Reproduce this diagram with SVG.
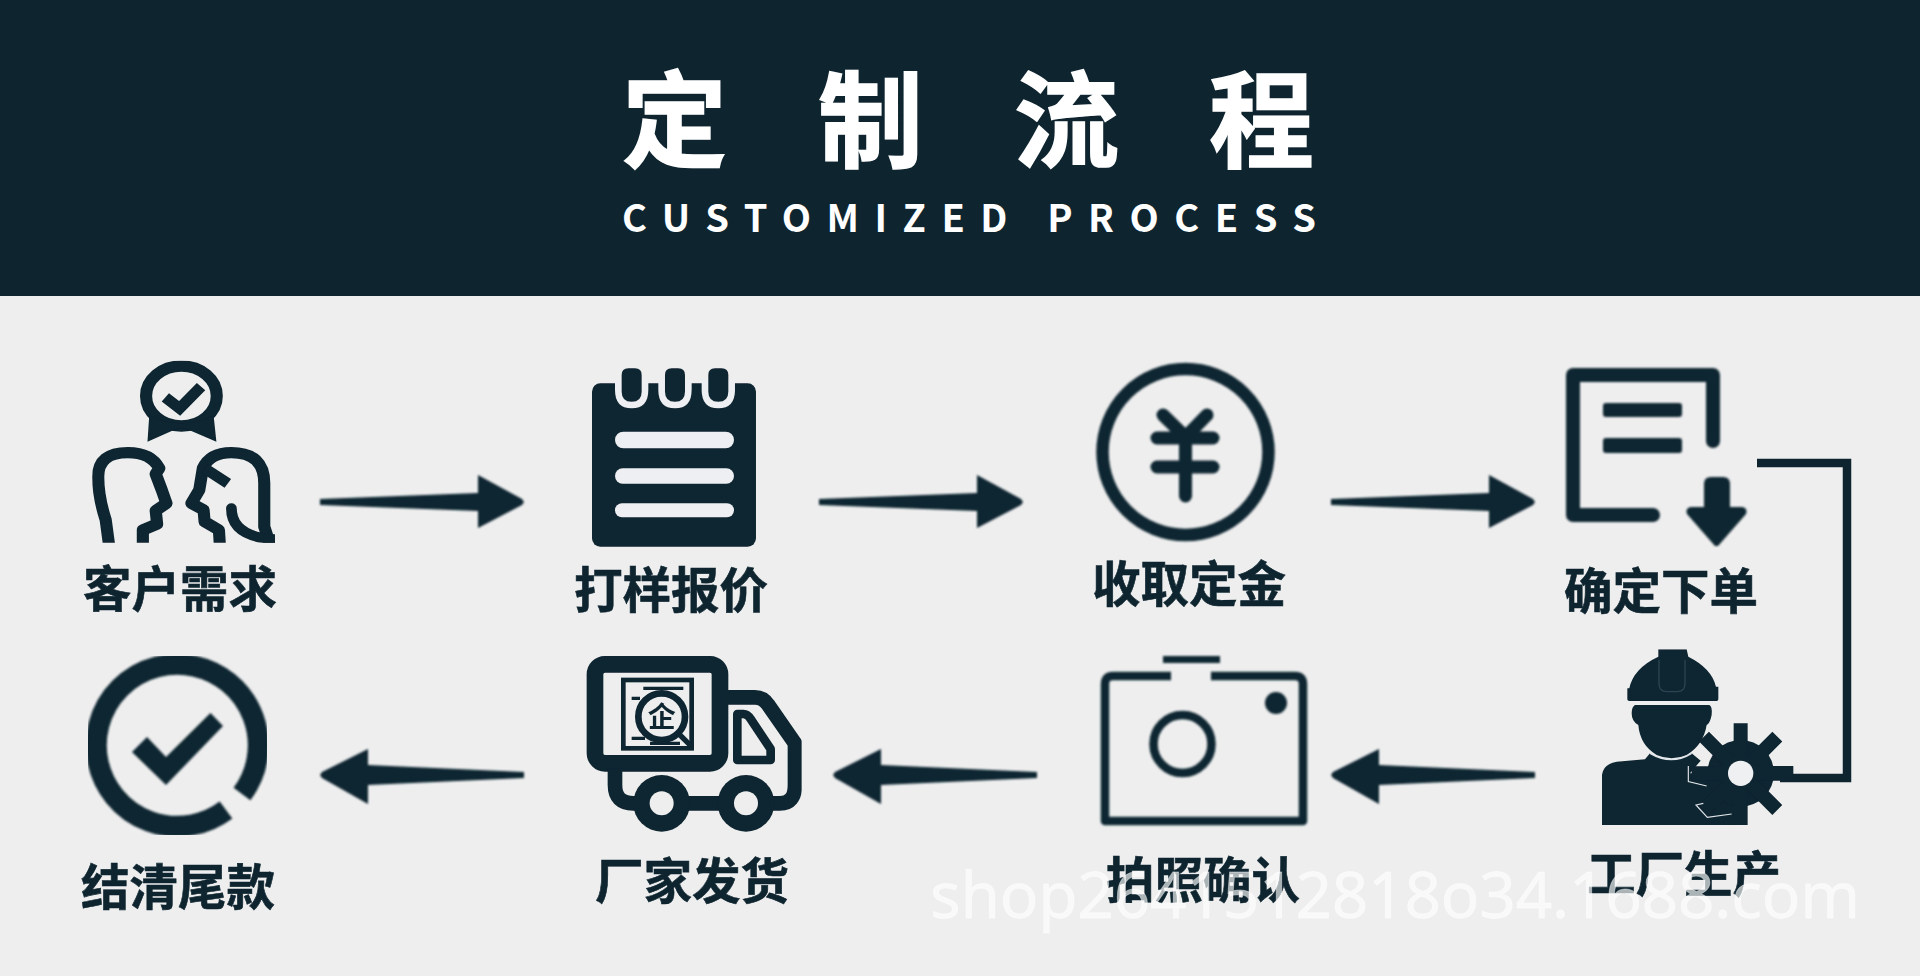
<svg xmlns="http://www.w3.org/2000/svg" width="1920" height="976" viewBox="0 0 1920 976">
<style>
.cjk{font-family:"Noto Sans CJK SC","Noto Sans",sans-serif;font-weight:700}
.lab{font-size:48.500px;fill:#0e2530;stroke:#0e2530;stroke-width:.6px}
.d{fill:#0e2530}
.s{fill:none;stroke:#0e2530}
.g{filter:url(#soft)}
</style>
<defs>
<filter id="soft" x="-5%" y="-5%" width="110%" height="110%"><feGaussianBlur stdDeviation="0.9"/></filter>
<polygon id="ar" points="320,499 478,493 478,475 522,499 524,502 522,505 478,528 478,511 320,505"/>
<polygon id="al" points="524,772 368,765 368,749 322,772 320,775 322,778 368,804 368,785 524,778"/>
<clipPath id="c1b"><rect x="90" y="62" width="512" height="546"/></clipPath>
<clipPath id="c5"><rect x="0" y="33" width="665" height="529"/></clipPath>
<clipPath id="c6"><rect x="0" y="28" width="800" height="527"/></clipPath>
</defs>
<rect width="1920" height="976" fill="#eeeeee"/>
<g id="header">
<rect width="1920" height="296" fill="#0e2530"/>
<text class="cjk" font-size="105" fill="#fff" stroke="#fff" stroke-width="1.500" x="622 818 1014 1209" y="159">定制流程</text>
<text class="cjk" font-size="38" fill="#fff" x="622" y="232" textLength="694">CUSTOMIZED PROCESS</text>
</g>
<g id="connectors">
<g class="d g">
<use href="#ar"/><use href="#ar" x="499"/><use href="#ar" x="1011"/>
<use href="#al"/><use href="#al" x="513"/><use href="#al" x="1011"/>
</g>
<path class="s" stroke-width="8.500" d="M1757 463H1847V778H1780"/>
</g>
<g id="n1">
<g class="g" transform="translate(60 340) scale(.3571 .3333)">
<g clip-path="url(#c1b)">
<ellipse class="s" cx="340" cy="168" rx="99" ry="90" stroke-width="34"/>
<path class="d" d="M250 225Q290 250 340 250Q390 250 430 225L438 305L350 265Q340 262 330 265L245 305Z"/>
<path class="s" stroke-width="32" d="M295 172L335 205L395 140"/>
<path class="s" stroke-width="34" stroke-linejoin="round" d="M138 620L128 540Q107 470 107 410Q107 338 190 338Q255 338 278 385L268 402L285 450L298 490L268 512L272 552L232 570V620"/>
<path class="s" stroke-width="34" stroke-linejoin="round" d="M448 620L445 570L405 545L402 510L368 490L390 450L400 385Q420 338 480 338Q572 338 572 430V560L590 620"/>
<path class="s" stroke-width="32" d="M405 385L470 430"/>
<path class="s" stroke-width="30" stroke-linecap="round" d="M480 505Q480 590 600 598"/>
</g>
</g>
<text class="cjk lab" x="83" y="607">客户需求</text>
</g>
<g id="n2">
<g class="g" transform="translate(570 350) scale(.3333)">
<rect class="d" x="66" y="100" width="492" height="490" rx="25"/>
<g fill="#eeeff2">
<path d="M135 90V120Q135 175 185 175Q235 175 235 120V90Z"/>
<path d="M265 90V120Q265 175 315 175Q365 175 365 120V90Z"/>
<path d="M395 90V120Q395 175 445 175Q495 175 495 120V90Z"/>
<rect x="135" y="245" width="357" height="50" rx="25"/>
<rect x="135" y="355" width="357" height="46" rx="23"/>
<rect x="135" y="460" width="357" height="42" rx="21"/>
</g>
<g class="d">
<path d="M155 75Q155 55 175 55H195Q215 55 215 75V125Q215 155 185 155Q155 155 155 125Z"/>
<path d="M285 75Q285 55 305 55H325Q345 55 345 75V125Q345 155 315 155Q285 155 285 125Z"/>
<path d="M415 75Q415 55 435 55H455Q475 55 475 75V125Q475 155 445 155Q415 155 415 125Z"/>
</g>
</g>
<text class="cjk lab" x="574" y="608">打样报价</text>
</g>
<g id="n3">
<g class="g">
<circle class="s" cx="1185.500" cy="452" r="83" stroke-width="12.500"/>
<path class="s" stroke-width="13" stroke-linecap="round" d="M1163 415L1185.500 437L1207 415M1157 438H1213M1157 467H1213M1185.500 437V496"/>
</g>
<text class="cjk lab" x="1092" y="602">收取定金</text>
</g>
<g id="n4">
<g class="g">
<path class="s" stroke-width="14" stroke-linejoin="round" stroke-linecap="round" d="M1713 441V375H1573V515H1653"/>
<rect class="d" x="1603" y="403" width="79" height="14" rx="3"/>
<rect class="d" x="1603" y="438" width="79" height="15" rx="3"/>
<path class="d" d="M1704 484Q1704 477 1711 477H1723Q1730 477 1730 484V507H1742Q1748 508 1746 514L1718 546H1715L1687 514Q1685 508 1691 507H1704Z"/>
</g>
<text class="cjk lab" x="1564" y="609">确定下单</text>
</g>
<g id="n5">
<g class="g">
<path class="s" stroke-width="8.500" stroke-linejoin="round" d="M1171 676H1113Q1105 676 1105 684V821H1303V684Q1303 676 1295 676H1211"/>
<rect class="d" x="1163" y="656" width="57" height="7"/>
<circle class="s" cx="1182.500" cy="744" r="29" stroke-width="8.500"/>
<circle class="d" cx="1276" cy="703" r="11"/>
</g>
<text class="cjk lab" x="1106" y="898">拍照确认</text>
</g>
<g id="n6">
<g class="g" transform="translate(1590 640) scale(.3333)">
<g clip-path="url(#c6)">
<path class="d" d="M205 28H290L295 50Q365 85 378 140H385V178Q385 183 380 183H118Q112 183 112 178V145H118Q130 85 205 50Z"/>
<path fill="none" stroke="#2b4552" stroke-width="4" d="M207 60V130Q207 155 230 155H262Q285 155 285 130V60"/>
<path class="d" d="M135 195H358Q368 200 365 225Q360 250 350 255Q340 315 290 345Q245 365 200 345Q150 315 145 255Q125 245 125 220Q125 200 135 195Z"/>
<path class="d" d="M36 560V405Q40 372 80 365L165 358L180 340Q245 378 305 340L332 362L300 400H440V560Z"/>
<circle class="d" cx="452" cy="400" r="100"/>
<path class="s" stroke-width="42" d="M452 400V250M452 400L562 290M452 400L562 510M452 400L342 290M452 400L342 510M452 400V560M452 400H305"/>
<path class="s" stroke-width="44" d="M452 400H610"/>
<path fill="none" stroke="#dfe4e8" stroke-width="3.500" d="M295 378V425L350 438M340 490L318 495L352 532L425 522"/>
<path fill="none" stroke="#dfe4e8" stroke-width="4" d="M180 340Q245 378 305 340"/>
<circle cx="452" cy="400" r="38" fill="#eef0f2"/>
</g>
</g>
<text class="cjk lab" x="1587" y="892">工厂生产</text>
</g>
<g id="n7">
<g class="g" transform="translate(580 645) scale(.3333)">
<g clip-path="url(#c5)">
<rect class="s" x="45" y="58" width="375" height="297" rx="30" stroke-width="50"/>
<path class="s" stroke-width="44" stroke-linejoin="round" d="M440 157H525Q550 157 565 180L645 295V420Q645 475 600 475H160Q105 475 105 420V370"/>
<path class="s" stroke-width="26" stroke-linejoin="round" d="M472 207H490Q503 207 512 222L572 312V345H472Z"/>
<circle class="d" cx="245" cy="475" r="85"/><circle class="d" cx="498" cy="475" r="85"/>
<circle cx="245" cy="475" r="36" fill="#eeeeee"/><circle cx="498" cy="475" r="36" fill="#eeeeee"/>
<rect class="s" x="130" y="105" width="205" height="205" stroke-width="14"/>
<path class="s" stroke-width="10" d="M190 130H310M155 160H180M155 280H195M210 295H300"/>
<circle cx="245" cy="215" r="70" fill="#eeeeee" stroke="#0e2530" stroke-width="20"/>
<path class="s" stroke-width="16" d="M295 265L335 305"/>
</g>
<text class="cjk" font-size="84" fill="#0e2530" x="203" y="245">企</text>
</g>
<text class="cjk lab" x="595" y="899">厂家发货</text>
</g>
<g id="n8">
<g class="g">
<path class="s" stroke-width="21" d="M226 810A81 81 0 1 1 242 794"/>
<polygon class="d" points="147,737 166,757 210.500,713 223,726 166,785 132,752"/>
</g>
<text class="cjk lab" x="81" y="905">结清尾款</text>
</g>
<text id="watermark" x="930" y="918" font-family="'Noto Sans',sans-serif" font-size="64" fill="#ffffff" fill-opacity="0.65" stroke="#fff" stroke-opacity=".4" stroke-width=".8" textLength="930">shop2641512818o34.1688.com</text>
</svg>
